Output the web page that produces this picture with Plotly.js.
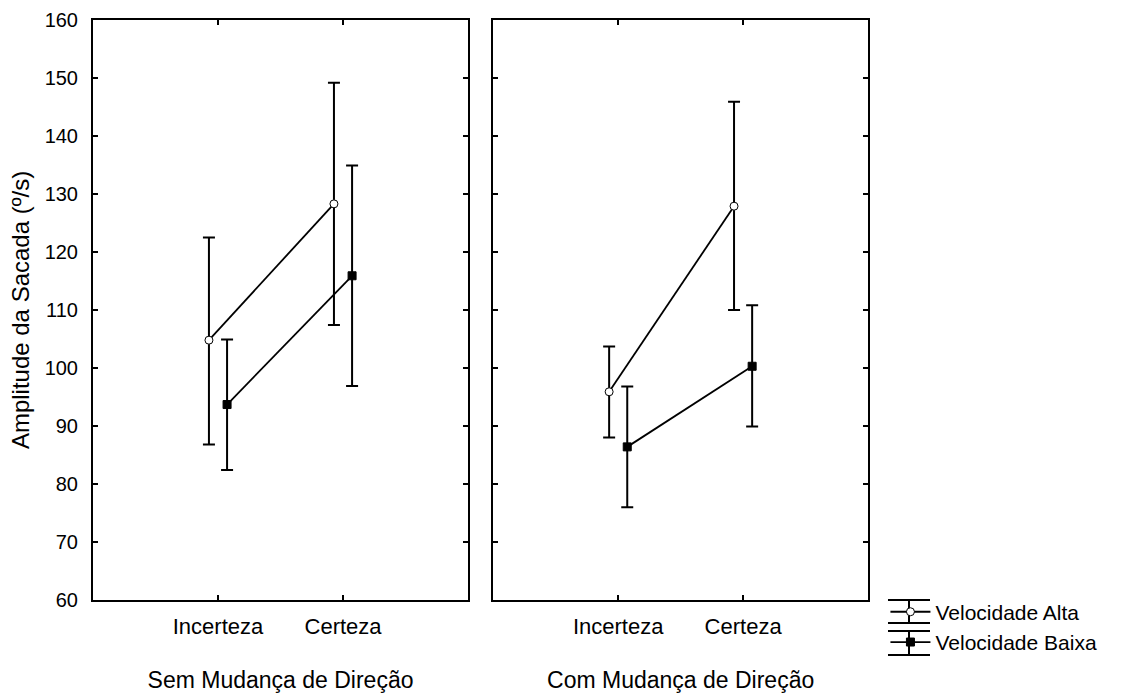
<!DOCTYPE html>
<html>
<head>
<meta charset="utf-8">
<script src="https://cdn.plot.ly/plotly-3.0.1.min.js"></script>
<style>html,body{margin:0;padding:0;background:#fff;}#chart{width:1140px;height:693px;}</style>
</head>
<body>
<div id="chart"></div>
<script>
// ---- data ----
const conditions = ['Incerteza', 'Certeza'];
const panelTitles = ['Sem Mudança de Direção', 'Com Mudança de Direção'];
const seriesNames = ['Velocidade Alta', 'Velocidade Baixa'];

// Panel 1: Sem Mudança de Direção
const semAltaMean  = [104.8, 128.3];
const semAltaUpper = [122.5, 149.2];
const semAltaLower = [86.8, 107.4];
const semBaixaMean  = [93.7, 115.9];
const semBaixaUpper = [104.9, 134.9];
const semBaixaLower = [82.4, 96.9];

// Panel 2: Com Mudança de Direção
const comAltaMean  = [95.9, 127.9];
const comAltaUpper = [103.7, 145.9];
const comAltaLower = [88.0, 110.0];
const comBaixaMean  = [86.4, 100.3];
const comBaixaUpper = [96.8, 110.8];
const comBaixaLower = [76.0, 89.9];

const yTickVals = [60, 70, 80, 90, 100, 110, 120, 130, 140, 150, 160];

// ---- helpers ----
const FONT = 'Liberation Sans, Arial, Helvetica, sans-serif';
function diff(a, b) { return a.map((v, i) => +(v - b[i]).toFixed(3)); }

function makeTrace(name, mean, upper, lower, xa, ya, isAlta, showLeg) {
  return {
    type: 'scatter', mode: 'lines+markers', name: name,
    x: conditions, y: mean, xaxis: xa, yaxis: ya,
    legendgroup: name, showlegend: showLeg,
    line: {color: '#000', width: 1.8},
    marker: isAlta
      ? {symbol: 'circle', size: 8, color: '#fff', line: {color: '#000', width: 1}}
      : {symbol: 'square', size: 8, color: '#000', line: {color: '#000', width: 1}},
    error_y: {type: 'data', symmetric: false,
      array: diff(upper, mean), arrayminus: diff(mean, lower),
      color: '#000', thickness: 2, width: 6},
    hoverinfo: 'x+y+name'
  };
}

const traces = [
  makeTrace(seriesNames[0], semAltaMean, semAltaUpper, semAltaLower, 'x', 'y', true, true),
  makeTrace(seriesNames[1], semBaixaMean, semBaixaUpper, semBaixaLower, 'x', 'y', false, true),
  makeTrace(seriesNames[0], comAltaMean, comAltaUpper, comAltaLower, 'x2', 'y2', true, false),
  makeTrace(seriesNames[1], comBaixaMean, comBaixaUpper, comBaixaLower, 'x2', 'y2', false, false)
];

const xCommon = {
  type: 'category', range: [-1, 2], showgrid: false, zeroline: false,
  showline: true, linecolor: '#000', linewidth: 2, mirror: 'ticks',
  ticks: 'inside', ticklen: 5, tickwidth: 1.5, tickcolor: '#000',
  tickfont: {family: FONT, size: 22, color: '#000'},
  ticklabelstandoff: 6, fixedrange: true
};
const yCommon = {
  range: [60, 160], tickvals: yTickVals, showgrid: false, zeroline: false,
  showline: true, linecolor: '#000', linewidth: 2, mirror: 'ticks',
  ticks: 'inside', ticklen: 5, tickwidth: 1.5, tickcolor: '#000',
  tickfont: {family: FONT, size: 20, color: '#000'},
  ticklabelstandoff: 9, fixedrange: true
};

// error-bar style legend glyph decoration (paper coords next to legend rows)
function glyph(yTop, yBot) {
  const xl = 1.0258, xr = 1.08, xc = 1.0529;
  const s = {type: 'line', xref: 'paper', yref: 'paper', line: {color: '#000', width: 2}};
  return [
    Object.assign({}, s, {x0: xl, x1: xr, y0: yTop, y1: yTop}),
    Object.assign({}, s, {x0: xl, x1: xr, y0: yBot, y1: yBot}),
    Object.assign({}, s, {x0: xc, x1: xc, y0: yTop, y1: yBot})
  ];
}

const layout = {
  width: 1140, height: 693,
  paper_bgcolor: '#fff', plot_bgcolor: '#fff',
  margin: {l: 93, r: 272, t: 20, b: 93},
  font: {family: FONT, color: '#000'},
  scattermode: 'group', scattergap: 0.71,
  showlegend: true,
  legend: {x: 1.0225, xanchor: 'left', y: 0.0145, yanchor: 'top',
    font: {family: FONT, size: 21, color: '#000'},
    bgcolor: 'rgba(0,0,0,0)', tracegroupgap: 0, itemwidth: 40},
  shapes: glyph(0.0, -0.0397).concat(glyph(-0.0534, -0.0948)),
  xaxis: Object.assign({}, xCommon, {domain: [0, 0.4839], anchor: 'y',
    title: {text: panelTitles[0], font: {family: FONT, size: 23, color: '#000'}, standoff: 34}}),
  xaxis2: Object.assign({}, xCommon, {domain: [0.5165, 1], anchor: 'y2',
    title: {text: panelTitles[1], font: {family: FONT, size: 23, color: '#000'}, standoff: 34}}),
  yaxis: Object.assign({}, yCommon, {anchor: 'x',
    title: {text: 'Amplitude da Sacada (º/s)', font: {family: FONT, size: 24, color: '#000'}, standoff: 8}}),
  yaxis2: Object.assign({}, yCommon, {anchor: 'x2', matches: 'y', showticklabels: false})
};

Plotly.newPlot('chart', traces, layout, {displayModeBar: false, staticPlot: true});
</script>
</body>
</html>
